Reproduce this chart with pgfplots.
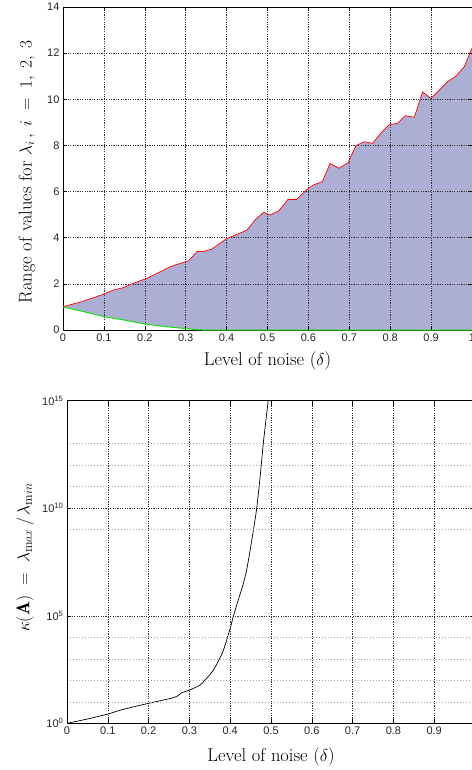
\documentclass[border=0pt]{standalone}
\usepackage{fontspec}
\setsansfont{Liberation Sans}
\usepackage{pgfplots}
\pgfplotsset{compat=1.18}
\definecolor{fillc}{RGB}{173,174,212}
\begin{document}
\begin{tikzpicture}
\pgfplotsset{
  myaxis/.style={
    scale only axis,
    set layers,
    axis on top,
    grid=major,
    major grid style={black!80, line width=0.5pt, dash pattern=on 1.2pt off 1.2pt},
    minor grid style={black!35, line width=0.5pt, dash pattern=on 1pt off 2pt},
    tick style={black, line width=0.5pt},
    major tick length=4pt,
    minor tick length=0pt,
    axis line style={line width=0.6pt},
    ticklabel style={font=\sffamily\fontsize{11}{13}\selectfont, text=black!85},
    label style={font=\fontsize{18.5}{22}\selectfont},
    xmin=0, xmax=1,
    xtick={0,0.1,0.2,0.3,0.4,0.5,0.6,0.7,0.8,0.9,1},
    xticklabels={0,0.1,0.2,0.3,0.4,0.5,0.6,0.7,0.8,0.9,1},
    xlabel={Level of noise ($\delta$)},
  }
}
\begin{axis}[myaxis,
  at={(63pt,-330pt)}, anchor=south west,
  width=409pt, height=323pt,
  ymin=0, ymax=14,
  clip=false,
  ytick={0,2,4,6,8,10,12,14},
  yticklabels={0,2,4,6,8,10,12,14},
  ylabel={Range of values for $\lambda_i\,,\; i\;=\;1,\;2,\;3$},
  ylabel style={at={(axis description cs:-0.088,0.49)}, anchor=center},
  xlabel style={at={(axis description cs:0.5,-0.095)}, anchor=center},
]
\addplot[fill=fillc, draw=none] coordinates {
(0,1.01) (0.046,1.23) (0.099,1.55) (0.123,1.73) (0.146,1.83) (0.172,2.02)
(0.205,2.24) (0.238,2.53) (0.262,2.74) (0.299,2.96) (0.307,3.0) (0.328,3.40)
(0.344,3.40) (0.364,3.51) (0.401,3.97) (0.422,4.12) (0.45,4.33) (0.471,4.8)
(0.491,5.10) (0.506,4.98) (0.528,5.17) (0.55,5.66) (0.571,5.66) (0.597,6.10)
(0.613,6.29) (0.634,6.43) (0.653,7.22) (0.675,7.01) (0.697,7.25) (0.716,7.99)
(0.736,8.16) (0.757,8.09) (0.777,8.53) (0.797,8.89) (0.818,8.96) (0.837,9.29)
(0.859,9.22) (0.879,10.32) (0.9,10.04) (0.92,10.4) (0.94,10.76) (0.961,11.01)
(0.981,11.41) (1.0,12.21)
(1.0,0) (0.34,0) (0.33,0.01) (0.3,0.06) (0.25,0.15) (0.2,0.26) (0.15,0.43)
(0.1,0.58) (0.05,0.8) (0,1.0)
};
\addplot[draw=red, line width=0.7pt, on layer=axis foreground] coordinates {
(0,1.01) (0.046,1.23) (0.099,1.55) (0.123,1.73) (0.146,1.83) (0.172,2.02)
(0.205,2.24) (0.238,2.53) (0.262,2.74) (0.299,2.96) (0.307,3.0) (0.328,3.40)
(0.344,3.40) (0.364,3.51) (0.401,3.97) (0.422,4.12) (0.45,4.33) (0.471,4.8)
(0.491,5.10) (0.506,4.98) (0.528,5.17) (0.55,5.66) (0.571,5.66) (0.597,6.10)
(0.613,6.29) (0.634,6.43) (0.653,7.22) (0.675,7.01) (0.697,7.25) (0.716,7.99)
(0.736,8.16) (0.757,8.09) (0.777,8.53) (0.797,8.89) (0.818,8.96) (0.837,9.29)
(0.859,9.22) (0.879,10.32) (0.9,10.04) (0.92,10.4) (0.94,10.76) (0.961,11.01)
(0.981,11.41) (1.0,12.21)
};
\addplot[draw={rgb,255:red,20;green,225;blue,20}, line width=1.0pt, on layer=axis foreground] coordinates {
(0,1.0) (0.05,0.8) (0.1,0.58) (0.15,0.43) (0.2,0.26) (0.25,0.15) (0.3,0.06)
(0.33,0.01) (0.34,0) (1.0,0)
};
\end{axis}
\begin{axis}[myaxis,
  at={(67pt,-723.3pt)}, anchor=south west,
  width=408pt, height=322.6pt,
  ymode=log,
  ymin=1, ymax=1e15,
  ytick={1,1e5,1e10,1e15},
  yticklabels={10\textsuperscript{0},10\textsuperscript{5},10\textsuperscript{10},10\textsuperscript{15}},
  minor ytick={10,100,1000,1e4,1e9,1e11,1e12,1e13},
  grid=both,
  ylabel={$\kappa(\mathbf{A})\ =\ \lambda_{\mathrm{m}ax}\,/\,\lambda_{\mathrm{m}in}$},
  ylabel style={at={(axis description cs:-0.103,0.514)}, anchor=center},
  xlabel style={at={(axis description cs:0.5,-0.105)}, anchor=center},
]
\addplot[black, line width=0.7pt, smooth, tension=0.4] coordinates {
(0,1) (0.05,1.585) (0.1,2.69) (0.138,4.47) (0.2,8.51) (0.254,14.45)
(0.272,19.05) (0.281,26.3) (0.301,35.5) (0.326,60.3) (0.342,123) (0.359,302)
(0.382,2138) (0.4,26300) (0.408,1e5) (0.42,5.62e5) (0.43,2.24e6) (0.44,1.26e7)
(0.449,1.15e8) (0.457,1e9) (0.465,1e10) (0.473,2.5e11) (0.481,1e13) (0.487,1e14)
(0.493,1e15) (0.5,1.6e16)
};
\end{axis}
\pgfresetboundingbox
\path[use as bounding box] (0pt,0pt) rectangle (471pt,-770pt);
\end{tikzpicture}
\end{document}
